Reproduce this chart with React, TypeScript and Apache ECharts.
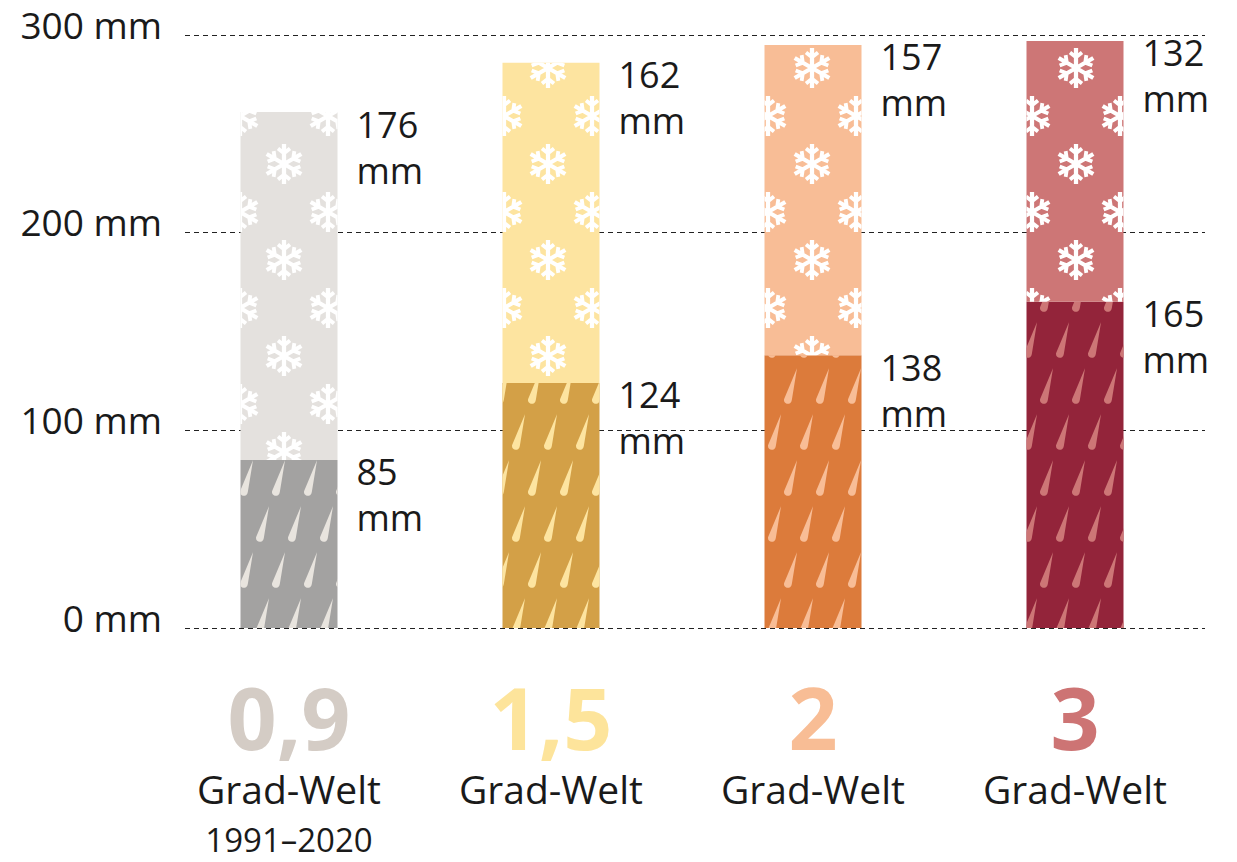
import React, { useEffect, useRef } from "react";
import * as echarts from "echarts";

const categories = ["0,9", "1,5", "2", "3"];
const subLabels = ["1991–2020", "", "", ""];
const rainValues = [85, 124, 138, 165];
const snowValues = [176, 162, 157, 132];
const yTickStep = 100;
const yMax = 300;

const bigColors = ["#d4ccc5", "#fde49b", "#f8bd95", "#cd7474"];
const snowColors = ["#e4e1de", "#fde4a0", "#f8bd96", "#cd7676"];
const rainColors = ["#a3a2a1", "#d3a047", "#dc7b3b", "#93243a"];
const dropColors = ["#e8e4de", "#fde4a0", "#f8bd96", "#cd7676"];

const FONT = "'Open Sans', 'Noto Sans', sans-serif";

function rectPoly(px: number, py: number, ang: number, len: number, w: number): string {
  const dx = Math.cos(ang), dy = Math.sin(ang);
  const nx = -dy, ny = dx;
  const h = w / 2;
  const pts = [
    [px + nx * h, py + ny * h],
    [px + dx * len + nx * h, py + dy * len + ny * h],
    [px + dx * len - nx * h, py + dy * len - ny * h],
    [px - nx * h, py - ny * h],
  ];
  return "M" + pts.map((p) => p[0].toFixed(2) + "," + p[1].toFixed(2)).join("L") + "Z";
}

function flakePath(): string {
  const c = 50;
  let d = "";
  for (let k = 0; k < 6; k++) {
    const t = (k * Math.PI) / 3 + Math.PI / 2;
    d += rectPoly(c, c, t, 47, 10);
    const px = c + Math.cos(t) * 25, py = c + Math.sin(t) * 25;
    d += rectPoly(px, py, t + 0.9, 18, 9);
    d += rectPoly(px, py, t - 0.9, 18, 9);
  }
  return d;
}

const FLAKE = "path://" + flakePath();
const DROP = "path://M12,0 L7.6,27 C7,31.8 0.4,31.2 1,26.5 Z";

export default function App() {
  const ref = useRef<HTMLDivElement>(null);
  useEffect(() => {
    if (!ref.current) return;
    const chart = echarts.init(ref.current, undefined, { renderer: "svg" });
    const rich: any = {
      t: { fontSize: 39, lineHeight: 52, color: "#1a1a1a", fontFamily: FONT },
      s: { fontSize: 33, lineHeight: 50, color: "#1a1a1a", fontFamily: FONT },
    };
    categories.forEach((_, i) => {
      rich["b" + i] = {
        fontSize: 86,
        fontWeight: "bold",
        lineHeight: 92,
        color: bigColors[i],
        fontFamily: FONT,
      };
    });
    const labelBase = {
      show: true,
      position: ["100%", 0],
      align: "left",
      verticalAlign: "top",
      formatter: "{c}\nmm",
      fontSize: 36,
      lineHeight: 46,
      color: "#1a1a1a",
      fontFamily: FONT,
    };
    chart.setOption({
      animation: false,
      backgroundColor: "#ffffff",
      grid: [
        { left: 185, right: 32, top: 35, bottom: 234 },
        { left: 158, right: 31, top: 35, bottom: 234 },
      ],
      xAxis: [
        { type: "category", gridIndex: 0, data: categories, show: false },
        {
          type: "category",
          gridIndex: 1,
          data: categories,
          axisLine: { show: false },
          axisTick: { show: false },
          axisLabel: {
            margin: 42,
            interval: 0,
            formatter: (v: string, i: number) =>
              `{b${i}|${v}}\n{t|Grad-Welt}` + (subLabels[i] ? `\n{s|${subLabels[i]}}` : ""),
            rich,
          },
        },
      ],
      yAxis: [
        {
          type: "value",
          gridIndex: 0,
          min: 0,
          max: yMax,
          interval: yTickStep,
          axisLine: { show: false },
          axisTick: { show: false },
          axisLabel: {
            formatter: "{value} mm",
            fontSize: 37,
            color: "#1a1a1a",
            fontFamily: FONT,
            margin: 23,
            verticalAlign: "bottom",
            lineHeight: 22,
          },
          splitLine: { show: true, lineStyle: { color: "#222", width: 1, type: [5, 4] } },
        },
        {
          type: "value",
          gridIndex: 1,
          min: 0,
          max: yMax,
          interval: yTickStep,
          show: false,
          splitLine: { show: false },
        },
      ],
      series: [
        {
          name: "Regen",
          type: "bar",
          stack: "total",
          xAxisIndex: 1,
          yAxisIndex: 1,
          barWidth: 97,
          label: { ...labelBase, offset: [19, -11] },
          data: rainValues.map((v, i) => ({
            value: v,
            itemStyle: {
              color: rainColors[i],
              decal: {
                symbol: DROP,
                symbolSize: 1,
                symbolKeepAspect: true,
                color: dropColors[i],
                dashArrayX: [[13, 19], [0, 16, 13, 3]],
                dashArrayY: [36, 10],
              },
            },
          })),
        },
        {
          name: "Schnee",
          type: "bar",
          stack: "total",
          xAxisIndex: 1,
          yAxisIndex: 1,
          barWidth: 97,
          label: { ...labelBase, offset: [19, -11] },
          data: snowValues.map((v, i) => ({
            value: v,
            itemStyle: {
              color: snowColors[i],
              decal: {
                symbol: FLAKE,
                symbolSize: 1,
                symbolKeepAspect: true,
                color: "#ffffff",
                dashArrayX: [[40, 48], [0, 44, 40, 4]],
                dashArrayY: [40, 8],
              },
            },
          })),
        },
      ],
    });
    return () => chart.dispose();
  }, []);
  return (
    <div
      ref={ref}
      style={{ position: "fixed", left: 0, top: 0, width: 1237, height: 862 }}
    />
  );
}
